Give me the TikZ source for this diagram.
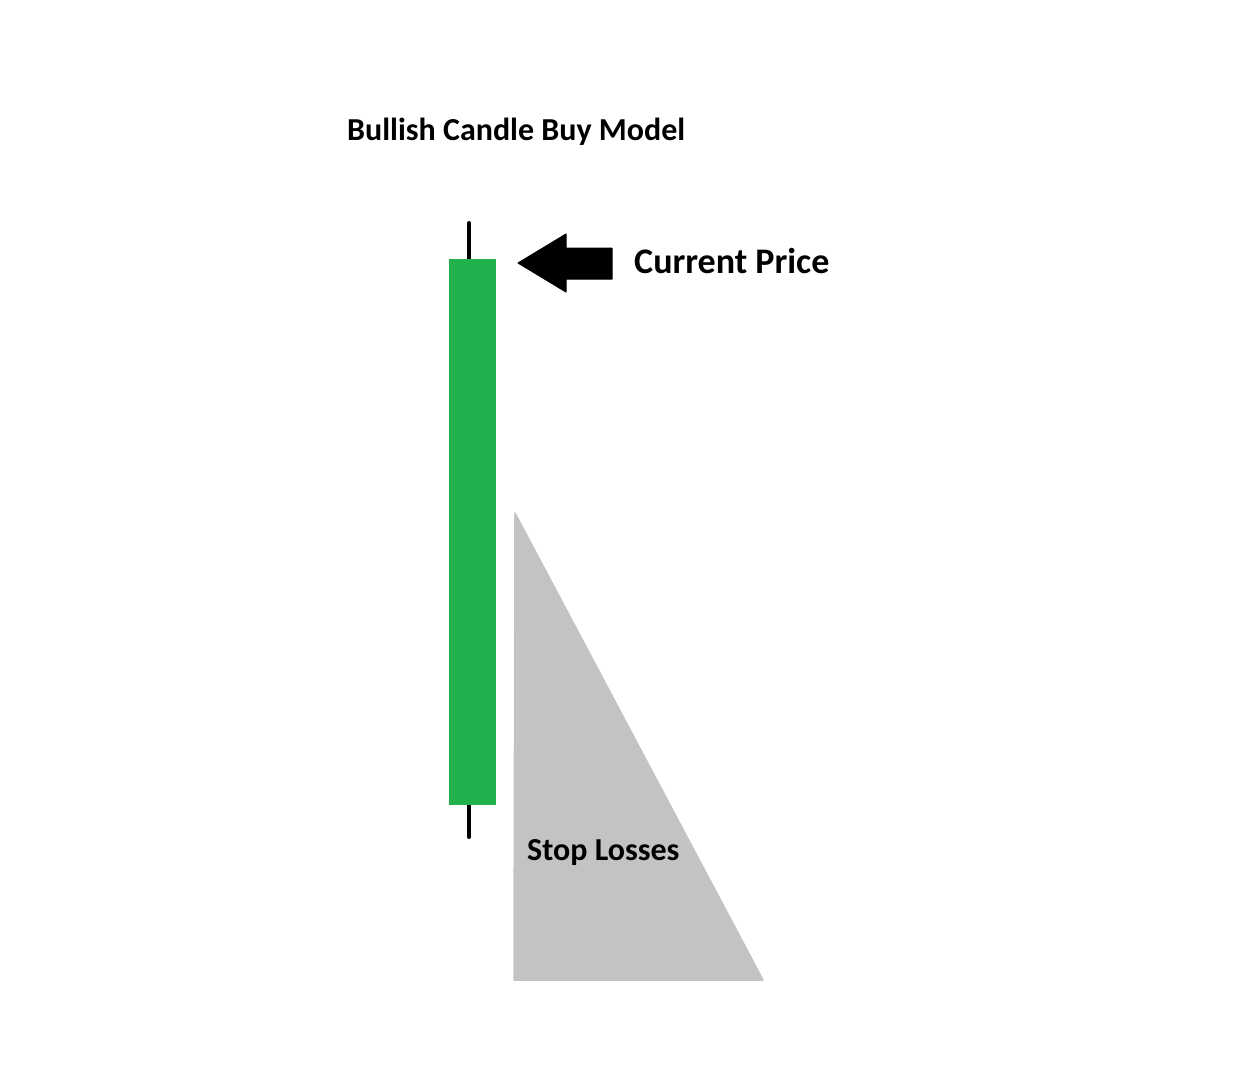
\documentclass[tikz,border=0pt]{standalone}
\usepackage{fontspec}
\setmainfont{Carlito}
\definecolor{candlegreen}{HTML}{22B14C}
\definecolor{stopgray}{HTML}{C3C3C3}
\begin{document}
\begin{tikzpicture}[x=1pt,y=-1pt,
  label text/.style={anchor=base west,inner sep=0pt,font=\bfseries},
  wick/.style={line width=4pt,line cap=round,black}]
\useasboundingbox (0,0) rectangle (1250,1080);
% title
\node[label text,font=\bfseries\fontsize{32}{38}\selectfont] (title) at (347,140) {Bullish Candle Buy Model};
% candle
\draw[wick] (469,223) -- (469,262);
\draw[wick] (469,802) -- (469,837);
\fill[candlegreen] (449,259) rectangle (496,805);
% arrow
\fill[black,draw=black,line width=1pt,line join=round]
  (518,263) -- (566,234) -- (566,248) -- (612,248) -- (612,279) -- (566,279) -- (566,292) -- cycle;
\node[label text,font=\bfseries\fontsize{36}{42}\selectfont] (price) at (634,273) {Current Price};
% stop loss triangle
\fill[stopgray,draw=stopgray,line width=1.5pt,line join=round] (515,513) -- (763,980) -- (514,980) -- cycle;
\node[label text,font=\bfseries\fontsize{32}{38}\selectfont] (stop) at (527,860) {Stop Losses};
\end{tikzpicture}
\end{document}
